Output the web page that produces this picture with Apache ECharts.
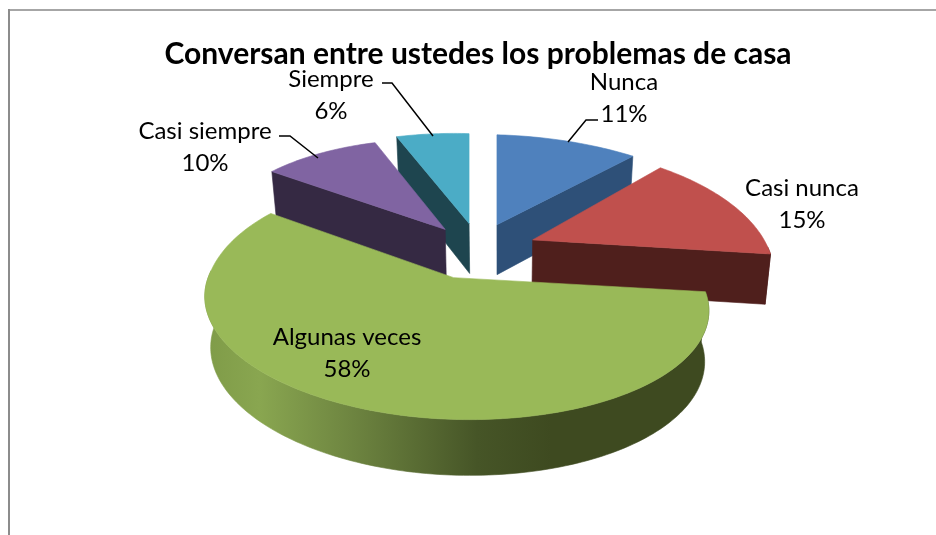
<!DOCTYPE html>
<html><head><meta charset="utf-8">
<style>html,body{margin:0;padding:0;background:#fff}#c{width:936px;height:535px}</style>
<script src="https://cdn.jsdelivr.net/npm/echarts@6/dist/echarts.min.js"></script>
</head><body><div id="c"></div>
<script>
const categories = ['Nunca', 'Casi nunca', 'Algunas veces', 'Casi siempre', 'Siempre'];
const percents = [11, 15, 58, 10, 6];
const topColors = ['#4f81bd', '#c0504d', '#99b958', '#8064a2', '#4bacc6'];
const wallColors = ['#2e5078', '#4f1f1c', '#3f4a21', '#352943', '#1e454f'];
const drawOrder = [0, 4, 1, 3, 2];
const labelCenters = [[624, 98], [802, 204], [347, 353], [205, 147], [331, 95]];
const nudgeX = [0, 5, -9, 0, 0];
const scaleRight = [1, 0.94, 0.995, 1, 1];
const scaleLeft = [1, 1, 0.97, 0.92, 0.95];
const scaleBack = [1, 1.05, 1.12, 1, 1];
const leaders = [
  [[598, 120], [586, 120], [568, 142]],
  null,
  null,
  [[279, 136], [290, 136], [318, 158]],
  [[382, 83], [392, 83], [433, 136]]
];

const V = {cx: 479, cy: 251, rx: 250, ry: 110, k: 0.224, roll: 7, ex: 53, ey: 28, depth: 50, shrink: 0.98};
const total = percents.reduce((a, b) => a + b, 0);

function point(i, ax, ay, t, r, lower) {
  const sn = Math.sin(t), cs = Math.cos(t);
  const s = 1 / (1 + r * V.k * cs);
  const sx = sn >= 0 ? scaleRight[i] : scaleLeft[i];
  const sy = cs >= 0 ? scaleBack[i] : 1;
  let x = ax + r * V.rx * sn * s * sx;
  let y = ay + r * (-V.ry * cs * sy + V.roll * sn) * s;
  if (lower) {
    x = V.cx + 20 + (x - V.cx - 20) * V.shrink;
    y = y + V.depth * (0.6 + 0.4 * s);
  }
  return [x, y];
}
function arc(i, ax, ay, a, b, lower) {
  const n = Math.max(2, Math.ceil(Math.abs(b - a) / 0.02));
  const p = [];
  for (let j = 0; j <= n; j++) p.push(point(i, ax, ay, a + (b - a) * j / n, 1, lower));
  return p;
}
function poly(points, fill, z2) {
  return {type: 'polygon', z2, shape: {points}, style: {fill, stroke: fill, lineWidth: 0.6}};
}
const greenWall = new echarts.graphic.LinearGradient(205, 0, 700, 0, [
  {offset: 0, color: '#7f9b48'},
  {offset: 0.11, color: '#89a650'},
  {offset: 0.3, color: '#6d8440'},
  {offset: 0.55, color: '#465527'},
  {offset: 0.7, color: '#3e4a20'},
  {offset: 1, color: '#3e4a20'}
], true);

function renderItem(params, api) {
  const i = params.dataIndex;
  const before = percents.slice(0, i).reduce((a, b) => a + b, 0);
  const a0 = before / total * 2 * Math.PI;
  const a1 = (before + api.value(0)) / total * 2 * Math.PI;
  const m = (a0 + a1) / 2;
  const ax = V.cx + V.ex * Math.sin(m) + nudgeX[i];
  const ay = V.cy - V.ey * Math.cos(m);
  const order = drawOrder.indexOf(i) * 10;
  const apex = [ax, ay];
  const apexLow = point(i, ax, ay, 0, 0, true);
  const children = [];
  const wall = wallColors[i];
  const wa = Math.max(a0, Math.PI / 2), wb = Math.min(a1, Math.PI * 1.5);
  if (wb > wa) {
    const up = arc(i, ax, ay, wa, wb, false);
    const low = arc(i, ax, ay, wa, wb, true).reverse();
    children.push(poly(up.concat(low), i === 2 ? greenWall : wall, order));
  }
  let cut = null;
  if (a1 <= Math.PI) cut = a1;
  else if (a0 > Math.PI) cut = a0;
  if (cut !== null) {
    const tip = point(i, ax, ay, cut, 1, false), tipLow = point(i, ax, ay, cut, 1, true);
    children.push(poly([apex, tip, tipLow, apexLow], wall, order + 1));
  }
  children.push(poly([apex].concat(arc(i, ax, ay, a0, a1, false)), topColors[i], order + 2));
  if (leaders[i]) {
    children.push({type: 'polyline', z2: 200, shape: {points: leaders[i]},
      style: {stroke: '#000', lineWidth: 1.5, fill: null}});
  }
  const c = labelCenters[i];
  children.push({type: 'text', z2: 201, x: c[0], y: c[1], style: {
    text: categories[i] + '\n' + api.value(0) + '%',
    fontFamily: 'Lato', fontSize: 24, lineHeight: 32,
    fill: '#000', align: 'center', verticalAlign: 'middle'
  }});
  return {type: 'group', children};
}

const chart = echarts.init(document.getElementById('c'), null, {renderer: 'canvas'});
chart.setOption({
  animation: false,
  backgroundColor: '#fff',
  title: {
    text: 'Conversan entre ustedes los problemas de casa',
    left: 473, top: 34, textAlign: 'center',
    textStyle: {fontFamily: 'Lato', fontWeight: 'bold', fontSize: 30, color: '#000'}
  },
  graphic: [
    {type: 'polyline', z: -1, silent: true, shape: {points: [[9, 10], [936, 10]]},
     style: {stroke: '#a6a6a6', lineWidth: 2, fill: null}},
    {type: 'polyline', z: -1, silent: true, shape: {points: [[9, 535], [9, 9]]},
     style: {stroke: '#8c8c8c', lineWidth: 2, fill: null}}
  ],
  series: [{
    type: 'custom',
    coordinateSystem: 'none',
    renderItem,
    data: percents.map((v, i) => ({name: categories[i], value: [v]}))
  }]
});
</script></body></html>
